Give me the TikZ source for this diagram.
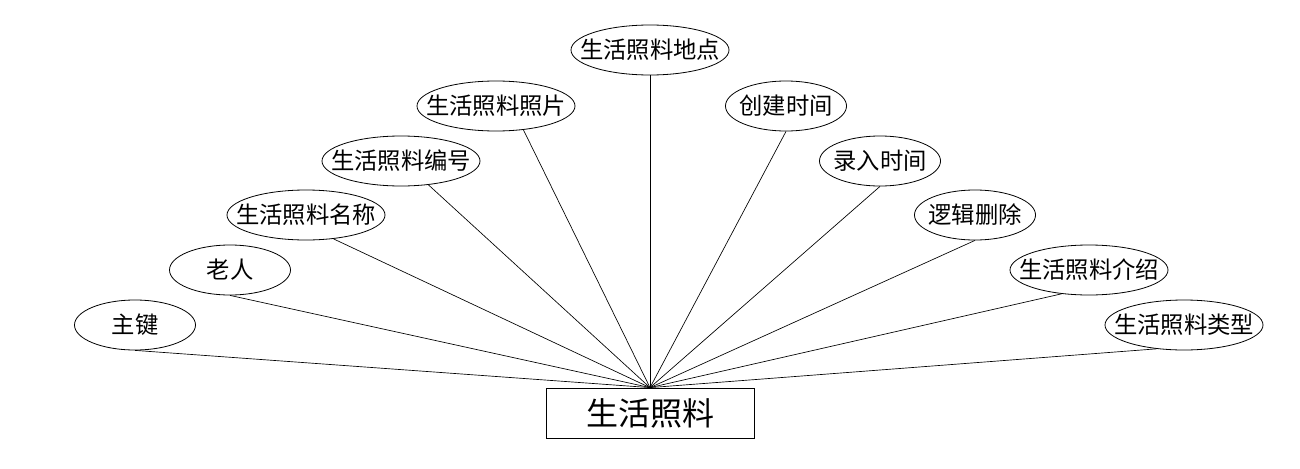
\documentclass[tikz,border=0pt]{standalone}
\usepackage{fontspec}
\setmainfont{Noto Sans CJK SC}
\usetikzlibrary{shapes.geometric}

\begin{document}
\begin{tikzpicture}[x=0.75pt, y=-0.75pt,
    attr/.style={ellipse, draw, line width=0.6pt, inner ysep=0pt, minimum height=37.5pt, font=\fontsize{17.5}{20}\selectfont},
    shortattr/.style={attr, inner xsep=-2.9pt, minimum width=90.75pt},
    longattr/.style={attr, inner xsep=-10.6pt},
    ent/.style={rectangle, draw, line width=0.6pt, minimum width=156pt, minimum height=37.5pt, font=\fontsize{24}{28}\selectfont},
    ln/.style={line width=0.5pt}]
    \useasboundingbox (0,0) rectangle (1300,468);
    % entity
    \node [ent] (care) at (650,413) {生活照料};
    % attributes, left side
    \node [shortattr] (pk) at (135,325) {主键};
    \node [shortattr] (elder) at (230,270) {老人};
    \node [longattr] (name) at (306,215) {生活照料名称};
    \node [longattr] (code) at (401,161) {生活照料编号};
    \node [longattr] (photo) at (496,106) {生活照料照片};
    \node [longattr] (place) at (650,50) {生活照料地点};
    % attributes, right side
    \node [shortattr] (ctime) at (786,106) {创建时间};
    \node [shortattr] (itime) at (880,161) {录入时间};
    \node [shortattr] (del) at (975,215) {逻辑删除};
    \node [longattr] (intro) at (1089,270) {生活照料介绍};
    \node [longattr] (kind) at (1184,325) {生活照料类型};
    % connectors
    \draw [ln] (care.north) -- (pk.south);
    \draw [ln] (care.north) -- (elder.south);
    \draw [ln] (care.north) -- (name.-41);
    \draw [ln] (care.north) -- (code.-41);
    \draw [ln] (care.north) -- (photo.-41);
    \draw [ln] (care.north) -- (place.south);
    \draw [ln] (care.north) -- (ctime.south);
    \draw [ln] (care.north) -- (itime.south);
    \draw [ln] (care.north) -- (del.south);
    \draw [ln] (care.north) -- (intro.-139);
    \draw [ln] (care.north) -- (kind.-139);
\end{tikzpicture}
\end{document}
